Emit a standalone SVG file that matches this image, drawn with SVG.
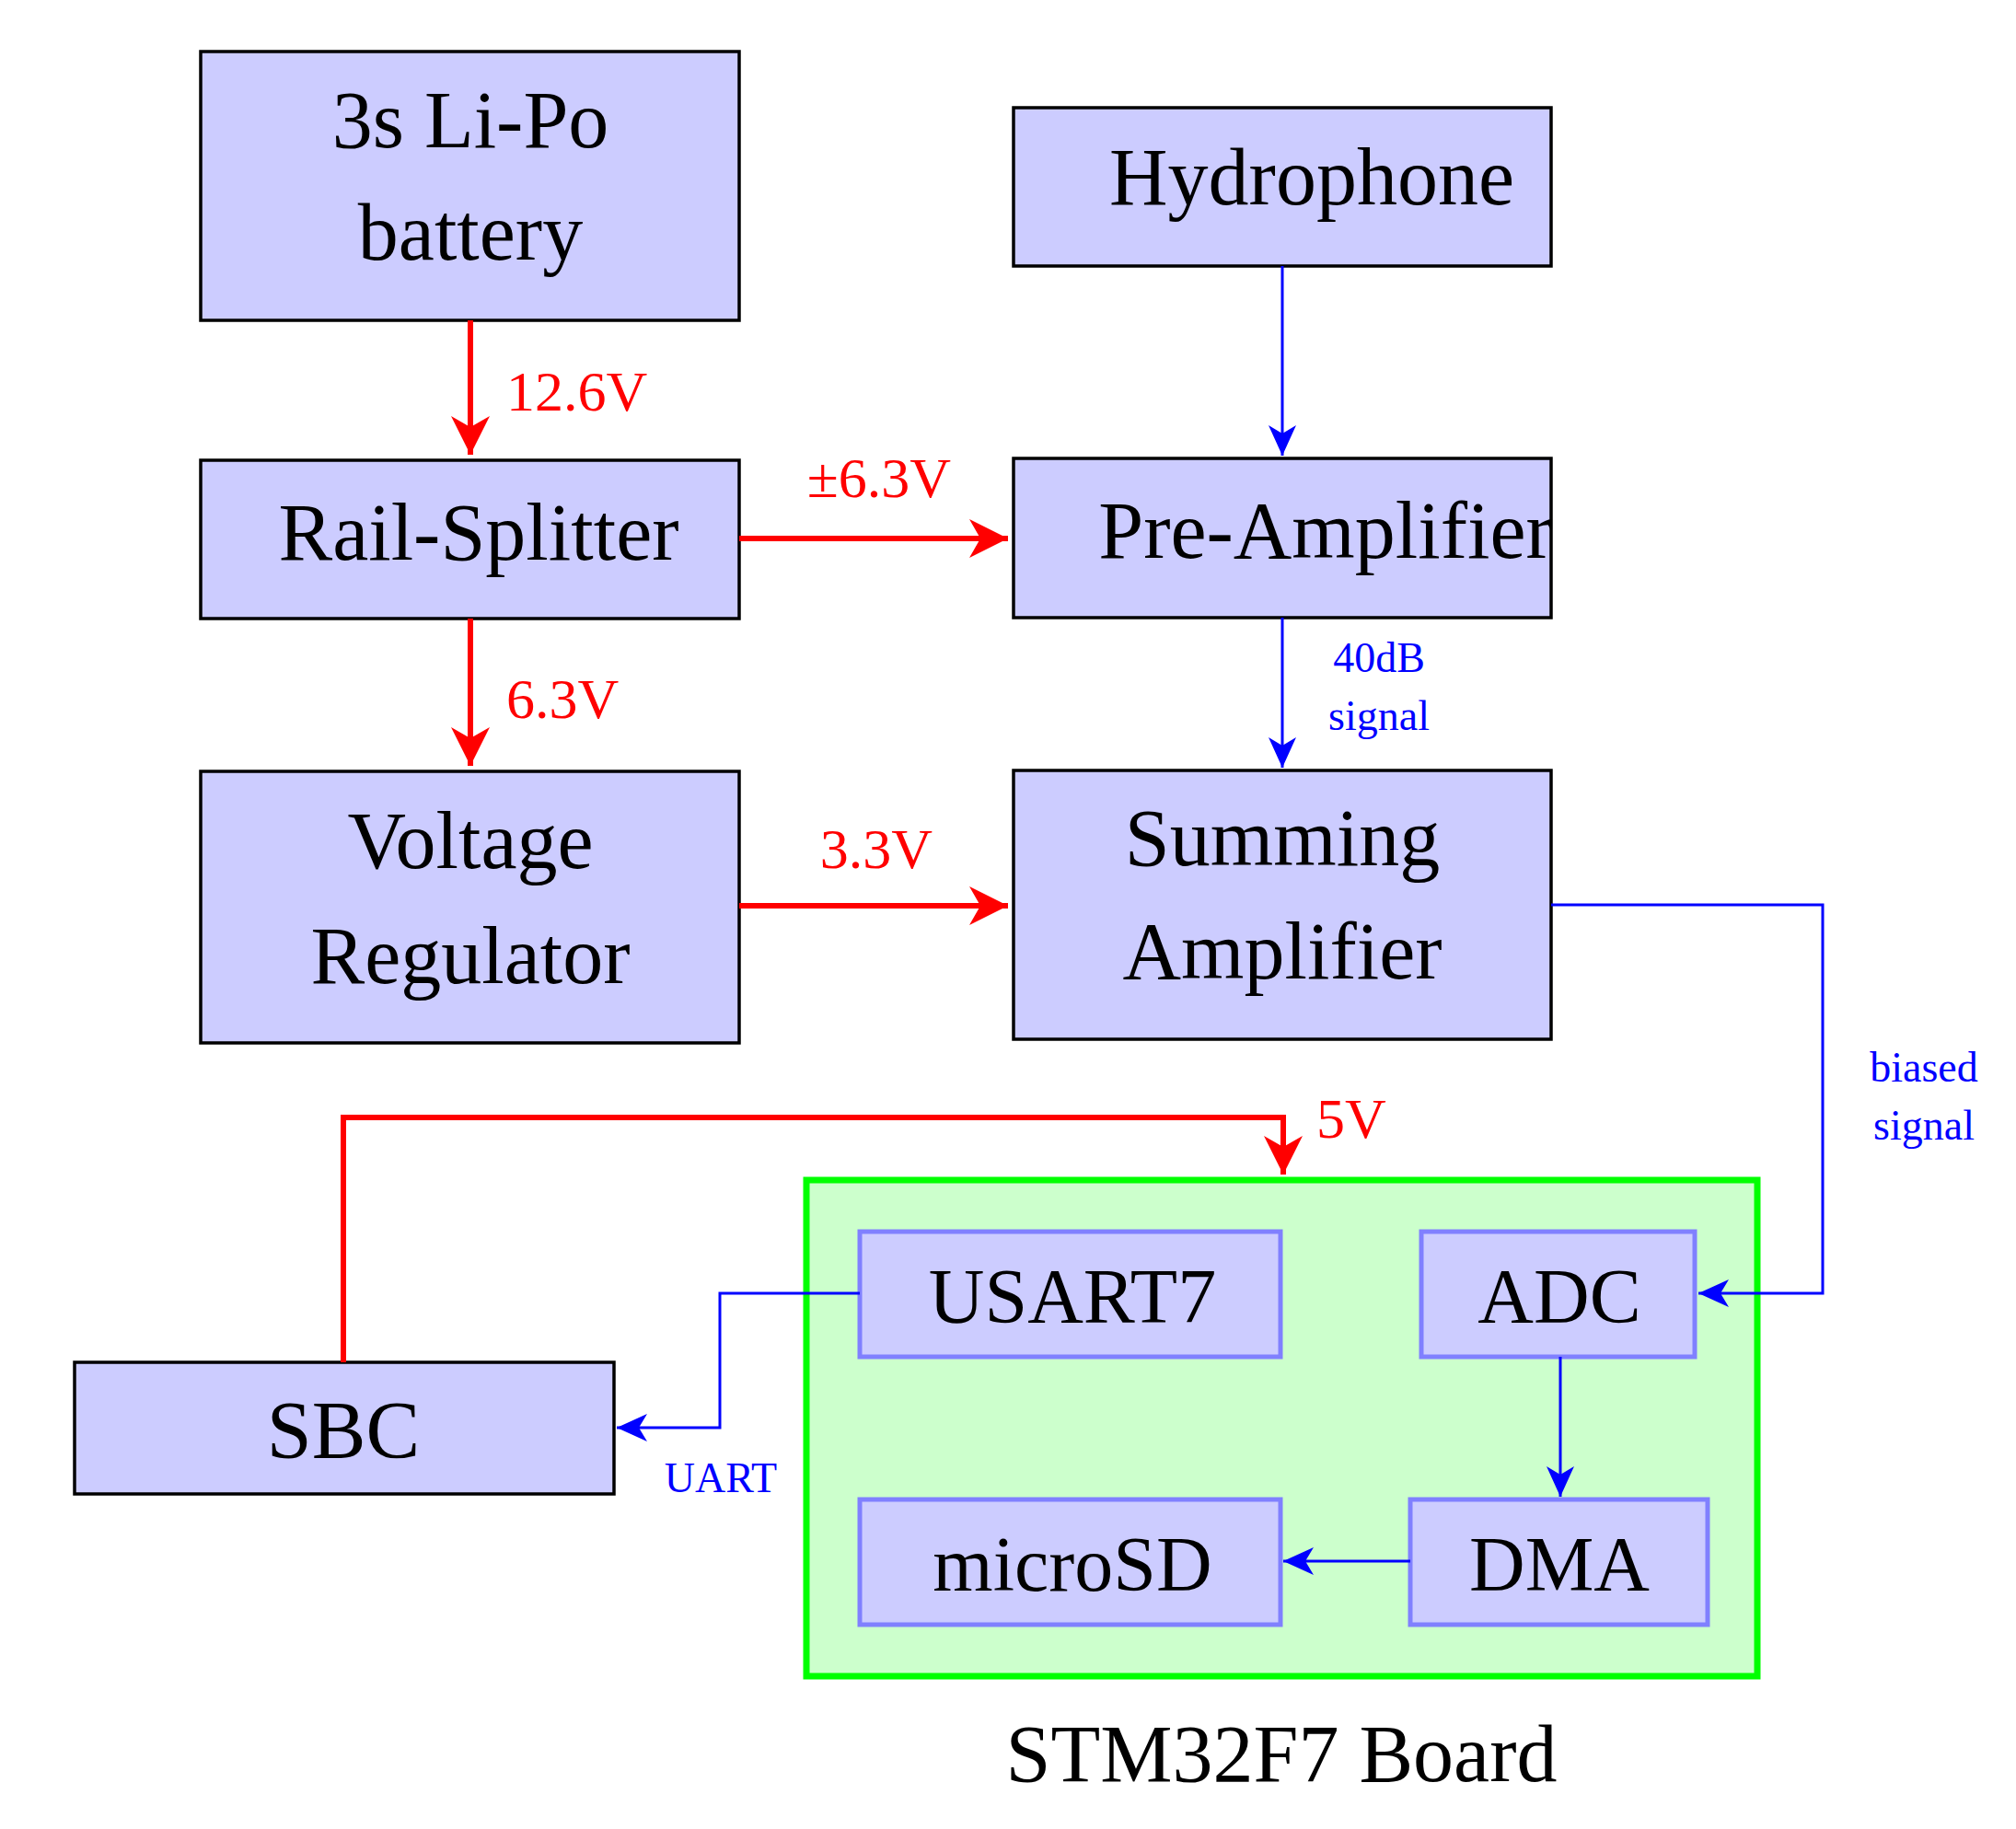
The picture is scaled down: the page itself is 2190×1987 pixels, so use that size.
<svg xmlns="http://www.w3.org/2000/svg" width="2190" height="1987" viewBox="0 0 2190 1987">
<style>
.n{fill:#ccccff;stroke:#000;stroke-width:3.5}
.i{fill:#ccccff;stroke:#8080ff;stroke-width:5}
text{font-family:"Liberation Serif",serif;text-anchor:middle}
.b{font-size:88px}
.m{font-size:84px}
.r{fill:#ff0000;font-size:62px}
.s{fill:#0000ff;font-size:46px}
.pr{fill:none;stroke:#ff0000;stroke-width:6}
.pb{fill:none;stroke:#0000ff;stroke-width:3}
</style>
<defs>
<marker id="ar" markerWidth="8" markerHeight="8" refX="7" refY="4" orient="auto" markerUnits="strokeWidth"><path d="M0,0.5 L7,4 L0,7.5 L2,4 Z" fill="#ff0000"/></marker>
<marker id="ab" markerWidth="12" markerHeight="12" refX="11" refY="6" orient="auto" markerUnits="strokeWidth"><path d="M0,1 L11,6 L0,11 L3,6 Z" fill="#0000ff"/></marker>
</defs>
<rect x="876" y="1282" width="1033" height="539" fill="#ccffcc" stroke="#00ff00" stroke-width="7"/>
<text class="b" x="1392" y="1935">STM32F7 Board</text>
<g id="battery"><rect class="n" x="218" y="56" width="585" height="292"/><text class="b" x="511" y="160">3s Li-Po</text><text class="b" x="511" y="282">battery</text></g>
<g id="rail"><rect class="n" x="218" y="500" width="585" height="172"/><text class="b" x="520" y="608">Rail-Splitter</text></g>
<g id="vreg"><rect class="n" x="218" y="838" width="585" height="295"/><text class="b" x="511" y="943">Voltage</text><text class="b" x="511" y="1068">Regulator</text></g>
<g id="hydro"><rect class="n" x="1101" y="117" width="584" height="172"/><text class="b" x="1425" y="222">Hydrophone</text></g>
<g id="pre"><rect class="n" x="1101" y="498" width="584" height="173"/><text class="b" x="1440" y="606">Pre-Amplifier</text></g>
<g id="sum"><rect class="n" x="1101" y="837" width="584" height="292"/><text class="b" x="1393" y="940">Summing</text><text class="b" x="1393" y="1063">Amplifier</text></g>
<g id="sbc"><rect class="n" x="81" y="1480" width="586" height="143"/><text class="b" x="373" y="1583">SBC</text></g>
<g id="usart"><rect class="i" x="934" y="1338" width="457" height="136"/><text class="m" x="1165" y="1437">USART7</text></g>
<g id="adc"><rect class="i" x="1544" y="1338" width="297" height="136"/><text class="m" x="1694" y="1437">ADC</text></g>
<g id="microsd"><rect class="i" x="934" y="1629" width="457" height="136"/><text class="m" x="1165" y="1728">microSD</text></g>
<g id="dma"><rect class="i" x="1532" y="1629" width="323" height="136"/><text class="m" x="1694" y="1728">DMA</text></g>
<g id="connectors">
<path class="pr" d="M511,348 V494" marker-end="url(#ar)"/>
<path class="pr" d="M511,672 V832" marker-end="url(#ar)"/>
<path class="pr" d="M803,585 H1095" marker-end="url(#ar)"/>
<path class="pr" d="M803,984 H1095" marker-end="url(#ar)"/>
<path class="pr" d="M373,1480 V1214 H1394 V1276" marker-end="url(#ar)"/>
<path class="pb" d="M1393,289 V495" marker-end="url(#ab)"/>
<path class="pb" d="M1393,671 V834" marker-end="url(#ab)"/>
<path class="pb" d="M1685,983 H1980 V1405 H1845" marker-end="url(#ab)"/>
<path class="pb" d="M934,1405 H782 V1551 H670" marker-end="url(#ab)"/>
<path class="pb" d="M1695,1474 V1626" marker-end="url(#ab)"/>
<path class="pb" d="M1532,1696 H1394" marker-end="url(#ab)"/>
<text class="r" x="550" y="446" text-anchor="start" style="text-anchor:start">12.6V</text>
<text class="r" x="550" y="780" style="text-anchor:start">6.3V</text>
<text class="r" x="955" y="540">±6.3V</text>
<text class="r" x="952" y="943">3.3V</text>
<text class="r" x="1430" y="1236" style="text-anchor:start">5V</text>
<text class="s" x="1498" y="730">40dB</text>
<text class="s" x="1498" y="793">signal</text>
<text class="s" x="2090" y="1175">biased</text>
<text class="s" x="2090" y="1238">signal</text>
<text class="s" x="783" y="1621">UART</text>
</g>
</svg>
